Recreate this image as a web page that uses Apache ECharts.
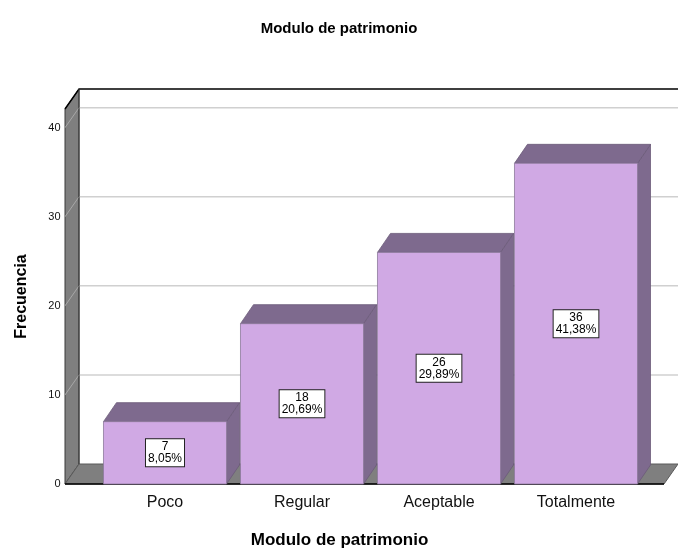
<!DOCTYPE html>
<html>
<head>
<meta charset="utf-8">
<script src="https://cdn.jsdelivr.net/npm/echarts@6/dist/echarts.min.js"></script>
<style>
  html, body { margin: 0; padding: 0; background: #fff; }
  #chart { width: 678px; height: 554px; }
</style>
</head>
<body>
<div id="chart"></div>
<script>
// data
const categories = ['Poco', 'Regular', 'Aceptable', 'Totalmente']
const counts = [7, 18, 26, 36]
const percentLabels = ['8,05%', '20,69%', '29,89%', '41,38%']
const yTicks = [0, 10, 20, 30, 40]
const yMax = 42.1

// depth of the 3D look
const WALL_DX = 14, WALL_DY = -20
const BAR_DX = 13, BAR_DY = -19
const FONT = '"Liberation Sans", Arial, sans-serif'

const chart = echarts.init(document.getElementById('chart'))

// walls, floor, gridlines
const renderWalls = (params, api) => {
    const cs = params.coordSys
    const yBase = api.coord([0, 0])[1]
    const yTop = api.coord([0, yMax])[1]
    const xFrontL = cs.x - 31.5
    const xFrontR = cs.x + cs.width + 19.5
    const xBackL = xFrontL + WALL_DX
    const xBackR = 678
    const children = []

    // back wall
    children.push({
        type: 'rect',
        shape: { x: xBackL, y: yTop + WALL_DY, width: xBackR - xBackL, height: yBase - yTop },
        style: { fill: '#fff' }
    })
    // left wall
    children.push({
        type: 'polygon',
        shape: { points: [[xFrontL, yTop], [xBackL, yTop + WALL_DY], [xBackL, yBase + WALL_DY], [xFrontL, yBase]] },
        style: { fill: '#7f7f7f', stroke: '#3a3a3a', lineWidth: 1 }
    })
    // gridlines
    yTicks.forEach(t => {
        if (t === 0) return
        const y = api.coord([0, t])[1]
        children.push({
            type: 'line',
            shape: { x1: xBackL, y1: y + WALL_DY, x2: xBackR, y2: y + WALL_DY },
            style: { stroke: '#d0d0d0', lineWidth: 1.5 }
        })
        children.push({
            type: 'line',
            shape: { x1: xFrontL, y1: y, x2: xBackL, y2: y + WALL_DY },
            style: { stroke: '#a8a8a8', lineWidth: 1 }
        })
    })
    // floor
    children.push({
        type: 'polygon',
        shape: { points: [[xFrontL, yBase], [xBackL, yBase + WALL_DY], [xBackR, yBase + WALL_DY], [xFrontR, yBase]] },
        style: { fill: '#7f7f7f', stroke: '#5a5a5a', lineWidth: 1 }
    })
    // edges
    children.push({
        type: 'polyline',
        shape: { points: [[xFrontL, yTop], [xBackL, yTop + WALL_DY], [xBackR, yTop + WALL_DY]] },
        style: { stroke: '#000', lineWidth: 1.5, fill: null }
    })
    children.push({
        type: 'line',
        shape: { x1: xBackL, y1: yTop + WALL_DY, x2: xBackL, y2: yBase + WALL_DY },
        style: { stroke: '#3a3a3a', lineWidth: 1 }
    })
    children.push({
        type: 'line',
        shape: { x1: xFrontL, y1: yBase, x2: xFrontR, y2: yBase },
        style: { stroke: '#000', lineWidth: 1.5 }
    })
    return { type: 'group', children }
}

// 3D bars with label box
const renderBar = (params, api) => {
    const idx = api.value(0)
    const val = api.value(1)
    const base = api.coord([idx, 0])
    const top = api.coord([idx, val])
    const w = api.size([1, 0])[0] * 0.898
    const x0 = base[0] - w / 2
    const x1 = base[0] + w / 2
    const y0 = top[1]
    const y1 = base[1]
    return {
        type: 'group',
        children: [
            {
                type: 'polygon',
                shape: { points: [[x1, y0], [x1 + BAR_DX, y0 + BAR_DY], [x1 + BAR_DX, y1 + BAR_DY], [x1, y1]] },
                style: { fill: '#7e6a8e', stroke: '#6b5a79', lineWidth: 0.8 }
            },
            {
                type: 'polygon',
                shape: { points: [[x0, y0], [x0 + BAR_DX, y0 + BAR_DY], [x1 + BAR_DX, y0 + BAR_DY], [x1, y0]] },
                style: { fill: '#7e6a8e', stroke: '#6b5a79', lineWidth: 0.8 }
            },
            {
                type: 'rect',
                shape: { x: x0, y: y0, width: w, height: y1 - y0 },
                style: { fill: '#d0a9e4', stroke: '#8d7a9c', lineWidth: 0.8 }
            },
            {
                type: 'text',
                x: base[0],
                y: (y0 + y1) / 2,
                style: {
                    text: counts[params.dataIndex] + '\n' + percentLabels[params.dataIndex],
                    align: 'center',
                    verticalAlign: 'middle',
                    font: '12px ' + FONT,
                    lineHeight: 12,
                    fill: '#000',
                    backgroundColor: '#fff',
                    borderColor: '#222',
                    borderWidth: 1,
                    padding: [2, 2, 1, 2]
                }
            }
        ]
    }
}

const option = {
    animation: false,
    title: {
        text: 'Modulo de patrimonio',
        left: 'center',
        top: 16,
        textStyle: { fontFamily: FONT, fontSize: 15, fontWeight: 'bold', color: '#000' }
    },
    grid: { left: 96.5, right: 33.5, top: 109, bottom: 66 },
    xAxis: {
        type: 'category',
        data: categories,
        axisLine: { show: false },
        axisTick: { show: false },
        axisLabel: { margin: 11, fontFamily: FONT, fontSize: 16, color: '#111' },
        name: 'Modulo de patrimonio',
        nameLocation: 'middle',
        nameGap: 48,
        nameTextStyle: {
            fontFamily: FONT, fontSize: 17, fontWeight: 'bold', color: '#000',
            padding: [0, 62, 0, 0]
        }
    },
    yAxis: {
        type: 'value',
        min: 0,
        max: yMax,
        interval: 10,
        axisLine: { show: false },
        axisTick: { show: false },
        splitLine: { show: false },
        axisLabel: {
            margin: 36,
            fontFamily: FONT,
            fontSize: 11,
            color: '#111',
            formatter: v => (yTicks.includes(v) ? String(v) : '')
        },
        name: 'Frecuencia',
        nameLocation: 'middle',
        nameGap: 67,
        nameTextStyle: { fontFamily: FONT, fontSize: 16, fontWeight: 'bold', color: '#000' }
    },
    series: [
        {
            type: 'custom',
            renderItem: renderWalls,
            data: [[0, 0]],
            silent: true,
            z: 1
        },
        {
            type: 'custom',
            renderItem: renderBar,
            data: counts.map((v, i) => [i, v]),
            z: 2
        }
    ]
}

chart.setOption(option)
window.addEventListener('resize', () => chart.resize())
</script>
</body>
</html>
